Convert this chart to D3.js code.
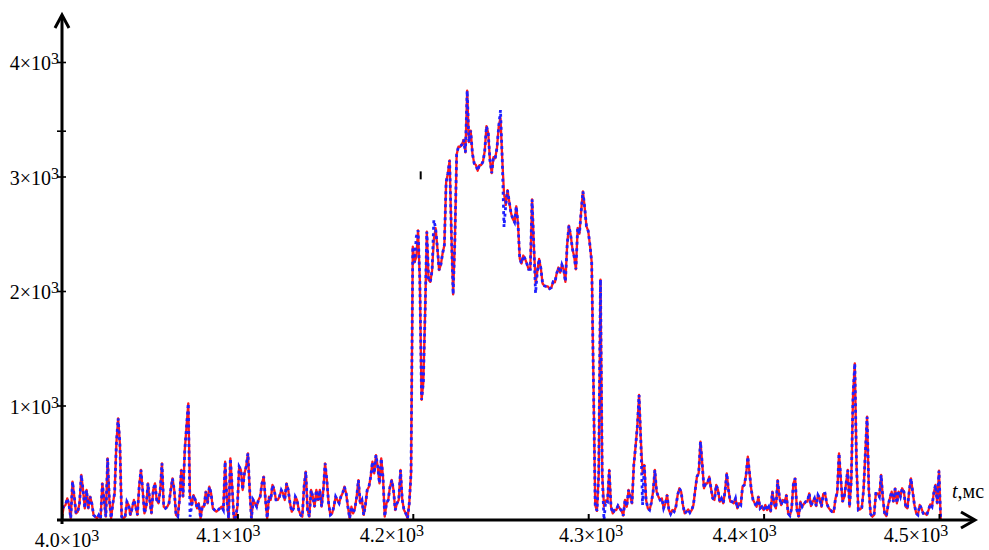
<!DOCTYPE html>
<html><head><meta charset="utf-8">
<script src="https://cdn.jsdelivr.net/npm/d3@7/dist/d3.min.js"></script>
<style>body{margin:0;background:#fff}svg{display:block}</style>
</head><body><svg id="c" width="989" height="550"></svg>
<script>
// ---- data (t in ms, sampled every 1 ms from 4000) ----
const tStart = 4000;
const tStep = 1;
const redSeries = [
29,116,131,189,131,15,335,204,58,73,146,393,262,102,262,102,204,146,44,29,15,44,15,320,175,29,538,175,15,146,
233,669,888,669,29,15,29,160,131,44,102,175,116,44,291,437,262,58,116,320,175,58,262,320,175,146,262,495,116,
102,116,146,262,364,262,44,29,175,437,204,611,815,1019,204,131,218,175,102,146,15,116,116,247,146,291,233,102,87,73,
87,102,116,87,509,175,15,538,291,15,15,116,466,
437,262,407,466,582,262,15,175,146,116,175,204,320,378,175,15,204,175,306,262,175,175,204,262,233,175,320,262,146,
73,102,204,175,87,44,29,291,422,87,29,262,204,116,262,175,262,116,262,495,349,146,44,58,116,204,175,146,
204,233,291,233,116,15,116,58,102,204,349,146,175,44,131,262,291,378,509,407,567,466,320,538,378,29,146,175,
291,349,262,87,146,175,437,175,87,58,15,146,407,
2387,2250,2300,2530,2100,1050,1200,1800,2518,2096,2080,2180,2450,2550,2380,2183,2230,2330,2400,2950,
3027,3140,2500,1970,2445,3190,3260,3260,3280,3320,3210,3750,3300,3400,3200,3115,3100,3050,3100,3100,
3130,3220,3440,3380,3140,3030,3170,3160,3250,3440,3510,3150,2850,2750,2880,2780,2680,2630,2600,2740,
2580,2280,2240,2310,2280,2240,2190,2190,2800,2400,2070,2170,2280,2200,2065,2045,2040,2040,2020,2030,
2080,2075,2150,2205,2160,2230,2190,2080,2400,2570,2490,2370,2300,2190,2550,2500,2700,2870,2730,2565,
2525,2400,2250,1200,130,80,400,2100,400,116,170,160,437,
116,58,87,87,125,102,79,38,175,116,262,204,146,480,640,815,1092,699,408,480,175,102,87,151,247,437,247,204,175,189,
102,146,218,87,52,87,73,116,218,277,247,131,58,73,93,64,87,131,262,378,408,684,495,277,320,320,378,277,189,175,
306,262,160,189,146,247,408,262,160,160,146,189,102,146,131,291,306,393,553,408,262,175,146,116,204,102,116,87,131,87,116,
73,247,146,102,349,204,131,175,160,218,58,38,102,320,364,87,29,160,116,140,160,160,233,122,160,189,122,218,189,116,
227,233,146,108,87,73,70,189,239,582,364,160,201,320,437,116,349,1092,1368,466,87,93,108,262,582,902,262,52,29,44,
233,233,204,393,189,58,35,131,189,247,160,277,146,247,204,277,247,116,102,247,364,247,131,58,44,131,102,58,58,44,
87,137,116,233,306,146,430,0
];
const blueSeries = [
102,116,131,189,131,15,335,204,58,73,146,393,262,102,262,102,204,146,44,29,15,44,15,320,175,29,538,175,15,146,
233,669,888,669,29,15,29,160,131,44,102,175,116,44,291,437,262,58,116,320,175,58,262,320,175,146,262,495,116,
102,116,146,262,364,262,44,29,175,437,204,611,815,1019,29,131,218,175,102,146,15,116,116,247,146,291,233,102,87,73,
87,102,116,87,509,175,15,538,291,15,29,116,466,
437,262,407,466,582,262,15,175,146,116,175,204,320,378,175,15,204,175,306,262,175,175,204,262,233,175,320,262,146,
73,102,204,175,87,44,29,291,422,87,29,262,204,116,262,175,262,116,262,495,349,146,44,58,116,204,175,146,
204,233,291,233,116,15,116,58,102,204,349,146,175,44,131,262,291,378,509,407,567,466,320,538,378,29,146,175,
291,349,262,87,146,175,437,175,87,58,15,146,407,
2387,2250,2474,2530,2100,1050,1200,1800,2518,2096,2080,2180,2620,2550,2380,2183,2230,2330,2400,2950,
3027,3140,2500,1970,2445,3190,3260,3260,3280,3320,3210,3750,3300,3400,3200,3115,3100,3050,3100,3100,
3130,3220,3440,3380,3140,3030,3170,3160,3250,3440,3580,3150,2560,2750,2880,2780,2680,2630,2600,2740,
2580,2280,2240,2310,2280,2240,2190,2190,2800,2400,1980,2170,2280,2200,2065,2045,2040,2040,2020,2030,
2080,2075,2150,2205,2160,2230,2190,2080,2400,2570,2490,2370,2300,2190,2550,2500,2700,2870,2730,2565,
2525,2400,2250,1200,130,80,400,2100,400,0,170,160,437,
116,58,87,87,125,102,79,38,175,116,262,204,146,480,640,815,1092,699,131,480,175,102,87,151,247,437,247,204,175,189,
102,146,218,87,52,87,73,116,218,277,247,131,58,73,93,64,87,131,262,378,408,684,495,277,320,320,378,277,189,175,
306,262,160,189,146,247,408,262,160,160,146,189,102,146,131,291,306,393,553,408,262,175,146,116,204,102,116,87,131,87,116,
73,247,146,102,349,204,131,175,160,218,58,38,102,320,364,87,29,160,116,140,160,160,233,122,160,189,122,218,189,116,
227,233,146,108,87,73,70,189,239,582,364,160,201,320,437,116,349,1092,1368,466,87,93,108,262,582,902,262,52,29,44,
233,233,204,393,189,58,35,131,189,247,160,277,146,247,204,277,247,116,102,247,364,247,131,58,44,131,102,58,58,44,
87,137,116,233,306,146,430,0
];
const xTickValues = [4000, 4100, 4200, 4300, 4400, 4500];
const xTickMantissa = ["4.0", "4.1", "4.2", "4.3", "4.4", "4.5"];
const yTickValues = [1000, 2000, 3000, 4000];
const yTickMantissa = ["1", "2", "3", "4"];
const tickExponent = "3";
const xAxisLabel = "t";
const xAxisUnit = ",мс";
const strayYTick = 3400;
const strayMark = [4204.5, 3010];

// ---- layout ----
const FONT = "'Liberation Serif','Times New Roman','DejaVu Serif',serif";
const xLabelShift = [5, -9, -21, 3, -19, -23];
const xLabelBase = [547, 542, 542, 542, 542, 542];

const svg = d3.select("#c");
const x = d3.scaleLinear().domain([4000, 4500]).range([62, 939]);
const y = d3.scaleLinear().domain([0, 4000]).range([520, 62]);

const line = d3.line()
  .x((d, i) => x(tStart + i * tStep))
  .y(d => y(d))
  .curve(d3.curveLinear);

svg.append("path").datum(redSeries)
  .attr("d", line).attr("fill", "none")
  .attr("stroke", "#ff1a1a").attr("stroke-width", 2.3)
  .attr("stroke-linejoin", "round");

svg.append("path").datum(blueSeries)
  .attr("d", line).attr("fill", "none")
  .attr("stroke", "#1f1fff").attr("stroke-width", 2.8)
  .attr("stroke-dasharray", "3,3.5");

// axes via d3 axis generators (ticks), custom domain lines with arrows
const gx = svg.append("g").attr("transform", `translate(0,${y(0)})`)
  .call(d3.axisBottom(x).tickValues(xTickValues).tickSize(-6).tickSizeOuter(0).tickFormat(""));
gx.select(".domain").remove();
gx.selectAll(".tick line").attr("stroke", "#000").attr("stroke-width", 2);

const gy = svg.append("g").attr("transform", `translate(${x(4000) + 4},0)`)
  .call(d3.axisLeft(y).tickValues(yTickValues.concat([strayYTick])).tickSize(9).tickSizeOuter(0).tickFormat(""));
gy.select(".domain").remove();
gy.selectAll(".tick line").attr("stroke", "#000").attr("stroke-width", 1.6);

const x0 = x(4000), yb = y(0);
svg.append("line").attr("x1", x0 - 5).attr("x2", 973).attr("y1", yb).attr("y2", yb)
  .attr("stroke", "#000").attr("stroke-width", 3);
svg.append("line").attr("x1", x0).attr("x2", x0).attr("y1", yb + 4).attr("y2", 16)
  .attr("stroke", "#000").attr("stroke-width", 3);
svg.append("polyline").attr("points", `${x0 - 7},28 ${x0},15 ${x0 + 7},28`)
  .attr("fill", "none").attr("stroke", "#000").attr("stroke-width", 3);
svg.append("polyline").attr("points", `961,512 975,${yb} 961,${yb + 8}`)
  .attr("fill", "none").attr("stroke", "#000").attr("stroke-width", 3);

// stray mark
svg.append("line")
  .attr("x1", x(strayMark[0])).attr("x2", x(strayMark[0]))
  .attr("y1", y(strayMark[1]) - 4).attr("y2", y(strayMark[1]) + 4)
  .attr("stroke", "#000").attr("stroke-width", 2);

// tick labels
yTickValues.forEach((v, i) => {
  const t = svg.append("text").attr("x", 59).attr("y", y(v) + 8)
    .attr("text-anchor", "end").attr("font-family", FONT).attr("font-size", 20).attr("fill", "#000");
  t.append("tspan").text(yTickMantissa[i] + "×10");
  t.append("tspan").attr("dy", -6).attr("font-size", 16).text(tickExponent);
});
xTickValues.forEach((v, i) => {
  const t = svg.append("text").attr("x", x(v) + xLabelShift[i]).attr("y", xLabelBase[i])
    .attr("text-anchor", "middle").attr("font-family", FONT).attr("font-size", 20).attr("fill", "#000");
  t.append("tspan").text(xTickMantissa[i] + "×10");
  t.append("tspan").attr("dy", -6).attr("font-size", 16).text(tickExponent);
});

// axis title
const at = svg.append("text").attr("x", 952).attr("y", 498)
  .attr("font-family", FONT).attr("font-size", 20).attr("fill", "#000");
at.append("tspan").attr("font-style", "italic").text(xAxisLabel);
at.append("tspan").text(xAxisUnit);
</script>
</body></html>
